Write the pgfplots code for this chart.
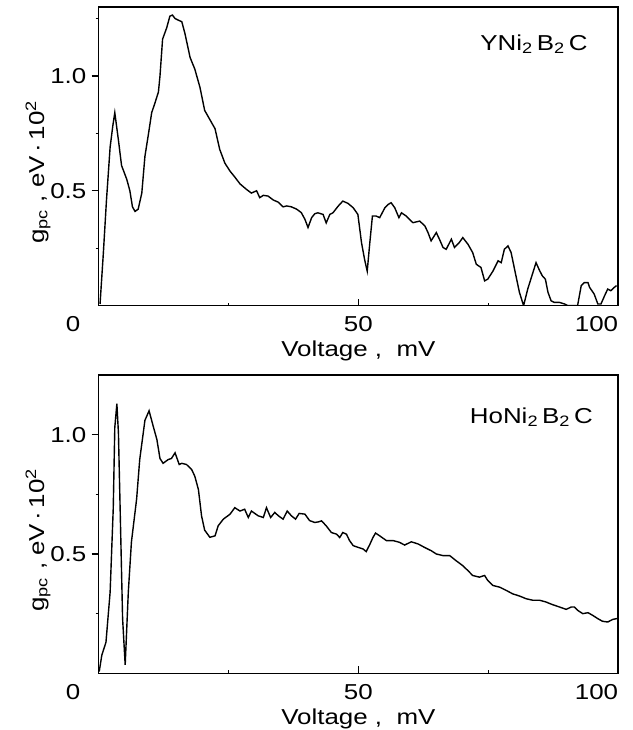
\documentclass[border=0pt]{standalone}
\usepackage{fontspec}
\setmainfont{Liberation Sans}[FakeStretch=1.2]
\usepackage{pgfplots}
\pgfplotsset{compat=1.18}

\pgfplotstableread{
V g
0.26 0.007
0.9 0.23
1.5 0.46
2.2 0.69
2.7 0.78
3.1 0.84
3.8 0.72
4.4 0.61
5.4 0.55
6.0 0.50
6.5 0.43
7.0 0.41
7.6 0.42
8.3 0.49
8.9 0.65
9.6 0.75
10.2 0.84
10.8 0.88
11.5 0.93
11.8 1.00
12.3 1.16
13.1 1.21
13.7 1.26
14.2 1.265
14.7 1.25
15.3 1.243
16.0 1.236
16.6 1.185
17.6 1.08
18.5 1.03
19.5 0.95
20.4 0.85
21.4 0.81
22.4 0.77
23.3 0.68
24.3 0.62
25.3 0.585
26.2 0.56
27.2 0.53
28.5 0.505
29.4 0.49
30.4 0.50
31.0 0.47
31.7 0.48
32.6 0.477
33.6 0.46
34.6 0.45
35.5 0.43
36.2 0.434
37.1 0.43
38.1 0.42
39.0 0.405
39.7 0.376
40.3 0.34
41.0 0.383
41.6 0.40
42.2 0.404
43.2 0.397
43.8 0.36
44.5 0.397
45.1 0.404
46.1 0.433
47.0 0.455
48.0 0.445
49.0 0.426
49.9 0.397
50.6 0.274
51.2 0.20
51.7 0.15
52.2 0.274
52.7 0.39
53.4 0.39
54.1 0.383
55.1 0.426
55.7 0.44
56.3 0.448
57.0 0.426
57.8 0.383
58.3 0.404
59.2 0.39
60.5 0.361
61.8 0.368
62.8 0.347
63.4 0.318
64.0 0.282
65.0 0.318
65.6 0.289
66.3 0.253
66.9 0.245
67.9 0.289
68.5 0.253
69.4 0.274
70.1 0.296
71.1 0.267
72.0 0.231
72.7 0.18
73.6 0.166
74.3 0.108
74.9 0.115
75.9 0.15
76.9 0.195
77.5 0.187
78.1 0.245
78.8 0.26
79.4 0.231
80.2 0.144
81.0 0.058
81.8 0.0
82.6 0.072
83.6 0.144
84.2 0.187
84.9 0.152
85.4 0.13
86.0 0.115
86.5 0.058
87.1 0.021
87.7 0.014
88.7 0.014
89.7 0.007
90.3 0.0
92.2 0.0
92.9 0.087
93.5 0.10
94.2 0.10
94.5 0.08
95.4 0.05
96.1 0.007
96.7 0.007
97.4 0.043
98.0 0.072
98.6 0.065
99.3 0.08
99.7 0.087
}\ytable

\pgfplotstableread{
V g
0.1 0.007
0.6 0.076
1.4 0.13
2.2 0.34
2.8 0.69
3.1 1.03
3.5 1.13
3.8 1.007
4.2 0.62
4.6 0.23
5.1 0.035
5.7 0.34
6.3 0.55
7.3 0.73
7.9 0.896
8.9 1.06
9.7 1.10
10.5 1.035
11.2 0.98
11.8 0.90
12.4 0.88
13.4 0.896
14.0 0.90
14.7 0.924
15.5 0.875
16.0 0.88
16.9 0.875
17.9 0.854
18.5 0.826
19.2 0.77
19.8 0.66
20.4 0.60
21.4 0.57
22.4 0.576
23.0 0.618
24.0 0.646
25.3 0.667
26.2 0.694
27.2 0.68
28.1 0.6875
28.8 0.653
29.4 0.68
30.7 0.66
31.7 0.653
32.3 0.694
33.1 0.653
33.9 0.674
34.6 0.66
35.5 0.646
36.3 0.68
37.1 0.66
37.9 0.646
38.6 0.67
39.7 0.667
40.6 0.64
41.6 0.632
42.4 0.635
42.9 0.639
43.8 0.618
44.8 0.59
45.8 0.583
46.4 0.569
47.0 0.59
47.7 0.583
48.3 0.556
49.0 0.535
49.9 0.528
50.9 0.521
51.5 0.51
52.2 0.54
52.8 0.569
53.3 0.5875
54.1 0.576
55.4 0.556
56.7 0.556
57.9 0.549
58.9 0.5375
60.2 0.551
61.5 0.542
62.7 0.528
64.0 0.514
65.0 0.50
66.3 0.493
67.6 0.493
68.8 0.472
70.1 0.451
71.1 0.43
72.0 0.41
73.3 0.403
74.3 0.41
74.9 0.389
75.9 0.368
77.2 0.361
78.5 0.347
79.7 0.333
81.0 0.324
82.3 0.3125
83.6 0.306
84.9 0.306
86.1 0.299
87.4 0.2875
88.7 0.278
90.0 0.268
91.0 0.278
91.6 0.278
92.2 0.264
93.2 0.25
94.2 0.254
95.1 0.243
96.1 0.229
97.0 0.218
98.0 0.215
99.0 0.226
99.7 0.229
100.0 0.23
}\hotable

\pgfplotsset{
  gpcaxis/.style={
    scale only axis,
    width=259.7pt,
    xmin=0, xmax=100,
    ymin=0,
    clip mode=individual,
    axis line style={line width=0.8pt},
    xtick={50,100}, xticklabels={50,\makebox[0pt][r]{100}},
    minor xtick={25,75},
    ytick={0.5,1.0}, yticklabels={0.5,1.0},
    xtick pos=bottom, ytick pos=left,
    xtick align=inside, ytick align=outside,
    major tick length=3.5pt, minor tick length=1.5pt,
    tick style={black, line width=0.6pt},
    xticklabel style={anchor=base, yshift=-13pt, inner sep=0pt},
    yticklabel style={anchor=east, inner sep=0pt, xshift=-2.5pt},
    xlabel={Voltage , \ mV},
    xlabel style={at={(rel axis cs:0.5,0)}, anchor=base, yshift=-25.5pt, inner sep=0pt},
    ylabel={g\textsubscript{pc} , eV\,·\,10\textsuperscript{2}},
    ylabel style={at={([xshift=-30.3pt,yshift=-7.9pt]rel axis cs:0,0.5)}, anchor=center, inner sep=0pt},
    /pgf/number format/assume math mode=true,
    font=\fontsize{10.8}{13}\selectfont,
  }
}

\begin{document}
\begin{tikzpicture}[font=\fontsize{10.8}{13}\selectfont]
\path[use as bounding box] (-49.35pt,-212.2pt) rectangle (267.15pt,152.8pt);
\begin{axis}[gpcaxis, at={(0,0)}, anchor=south west,
  height=149.3pt, ymax=1.3, minor ytick={0.25,0.75,1.25}]
\addplot[black, line width=0.7pt] table[x=V,y=g] {\ytable};
\node[anchor=base, inner sep=0pt] at ([xshift=-12.8pt,yshift=-13pt]rel axis cs:0,0) {0};
\node[anchor=base east, inner sep=0pt] at ([xshift=244.65pt,yshift=127.8pt]rel axis cs:0,0) {YNi\textsubscript{2}\,B\textsubscript{2}\,C};
\end{axis}
\begin{axis}[gpcaxis, at={(0,-183.85pt)}, anchor=south west,
  height=149.15pt, ymax=1.25, minor ytick={0.25,0.75}]
\addplot[black, line width=0.7pt] table[x=V,y=g] {\hotable};
\node[anchor=base, inner sep=0pt] at ([xshift=-12.8pt,yshift=-13pt]rel axis cs:0,0) {0};
\node[anchor=base east, inner sep=0pt] at ([xshift=247.3pt,yshift=125.15pt]rel axis cs:0,0) {HoNi\textsubscript{2}\,B\textsubscript{2}\,C};
\end{axis}
\end{tikzpicture}
\end{document}
